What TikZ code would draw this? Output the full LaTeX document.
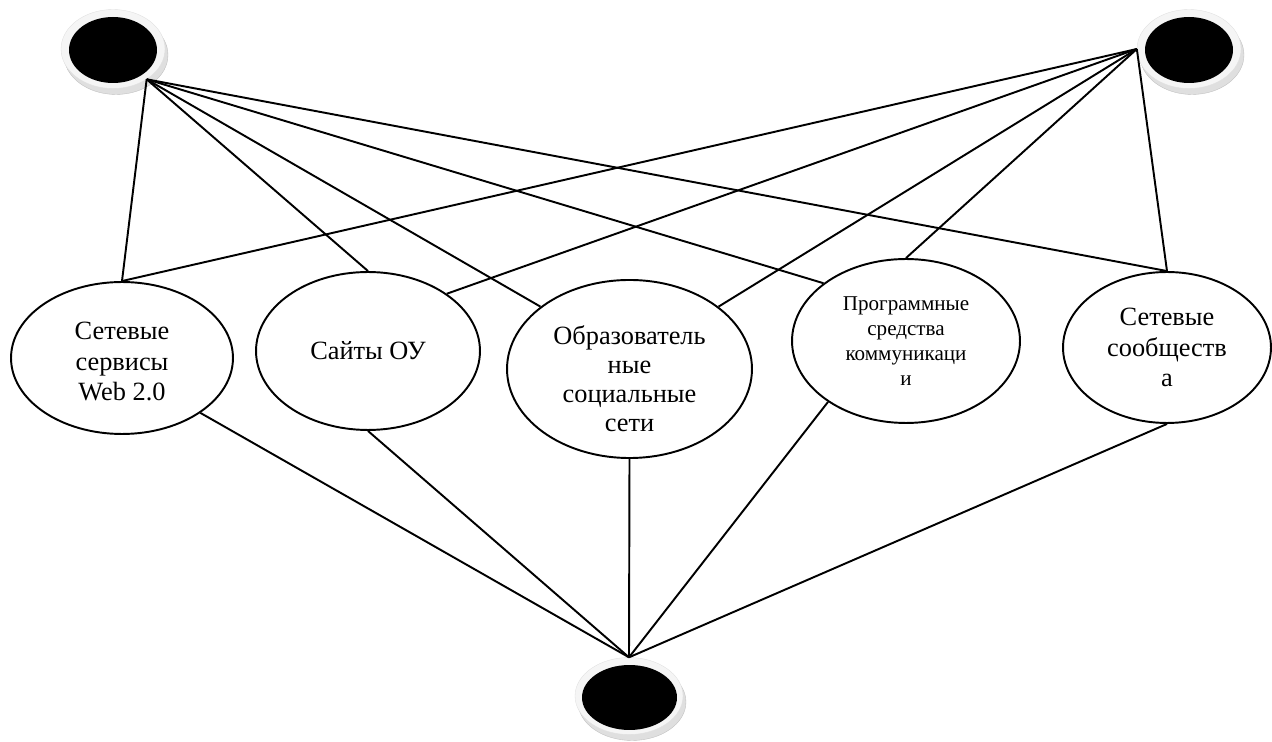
\documentclass[tikz,border=0pt]{standalone}
\usepackage{fontspec}
\setmainfont{Liberation Serif}
\usetikzlibrary{shapes.geometric}
\usetikzlibrary{shadows}

\tikzset{
  topic/.style={ellipse,draw=black,line width=1.1pt,inner sep=0pt,align=center,font=\fontsize{15}{17.5}\selectfont},
  coin/.style={ellipse,fill=gray!8,draw=gray!25,very thin,minimum width=2.08cm,minimum height=1.58cm,inner sep=0pt,
    drop shadow={shadow xshift=0.06cm,shadow yshift=-0.12cm,fill=gray!25,draw=gray!50,opacity=1}},
  coinhole/.style={ellipse,fill=black,minimum width=1.76cm,minimum height=1.32cm,inner sep=0pt},
  link/.style={black,line width=1.1pt}
}

\begin{document}
\begin{tikzpicture}[x=0.02cm,y=-0.02cm]
\useasboundingbox (0,0) rectangle (1272,742);

\node[coin] (tl) at (113,49) {};
\node[coinhole] (tlhole) at (113,50) {};
\node[coin] (tr) at (1189,49) {};
\node[coinhole] (trhole) at (1189,50) {};
\node[coin,minimum width=2.16cm,minimum height=1.54cm] (bot) at (629,696) {};
\node[coinhole,minimum width=1.9cm,minimum height=1.3cm] (bothole) at (629.5,697.5) {};

\node[topic,minimum width=4.44cm,minimum height=3.04cm] (e1) at (122,358) {\rule{0pt}{14pt}Сетевые\\сервисы\\Web 2.0};
\node[topic,minimum width=4.48cm,minimum height=3.16cm] (e2) at (368,351) {Сайты ОУ};
\node[topic,minimum width=4.9cm,minimum height=3.46cm,font=\fontsize{15}{16.5}\selectfont] (e3) at (629.5,369) {\rule{0pt}{22pt}Образователь\\ные\\социальные\\сети};
\node[topic,minimum width=4.56cm,minimum height=3.28cm,font=\fontsize{12}{14.2}\selectfont] (e4) at (906,341) {Программные\\средства\\коммуникаци\\и};
\node[topic,minimum width=4.16cm,minimum height=3.02cm] (e5) at (1167,347.5) {Сетевые\\сообществ\\а};

\draw[link] (tl.-42) -- (e1.north);
\draw[link] (tl.-42) -- (e2.north);
\draw[link] (tl.-42) -- (e3.145);
\draw[link] (tl.-42) -- (e4.145);
\draw[link] (tl.-42) -- (e5.north);

\draw[link] (tr.west) -- (e1.north);
\draw[link] (tr.west) -- (e2.36);
\draw[link] (tr.west) -- (e3.35);
\draw[link] (tr.west) -- (e4.north);
\draw[link] (tr.west) -- (e5.north);

\draw[link] (e1.-35) -- (bot.north);
\draw[link] (e2.south) -- (bot.north);
\draw[link] (e3.south) -- (bot.north);
\draw[link] (e4.218) -- (bot.north);
\draw[link] (e5.south) -- (bot.north);
\end{tikzpicture}
\end{document}
